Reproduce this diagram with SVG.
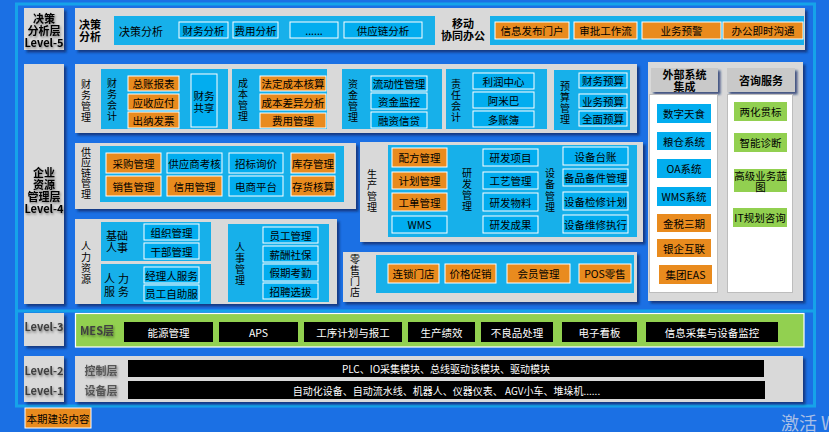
<svg xmlns="http://www.w3.org/2000/svg" width="829" height="432" viewBox="0 0 829 432">
<defs>
<filter id="sh" x="-10%" y="-10%" width="130%" height="140%"><feDropShadow dx="2.5" dy="2.5" stdDeviation="1.2" flood-color="#0b2a66" flood-opacity="0.75"/></filter>
<filter id="ts" x="-20%" y="-30%" width="140%" height="170%"><feDropShadow dx="1" dy="1.5" stdDeviation="1" flood-color="#000" flood-opacity="0.45"/></filter>
</defs>
<style>
text{font-family:"Noto Sans CJK SC","Microsoft YaHei","Liberation Sans",sans-serif;}
.gp{fill:#d9d9d9;filter:url(#sh)}
.hd{fill:#c9c9c9;filter:url(#sh)}
.bp{fill:#17b0ea}
.bb{fill:#02adef;stroke:#fff;stroke-width:1}
.ob{fill:#e98b1e;stroke:#fff;stroke-width:1}
.on{fill:#e98b1e}
.bn{fill:#02adef}
.gb{fill:#92d050}
.kb{fill:#000}
.wc{fill:#fff;stroke:#bdbdbd;stroke-width:1}
.t{font-size:10.5px;text-anchor:middle;dominant-baseline:central;fill:#000}
.w{fill:#fff}
.v{font-size:11px;text-anchor:middle;dominant-baseline:central;fill:#000}
.vt{font-size:10px;writing-mode:vertical-rl;text-anchor:middle;letter-spacing:1px;fill:#000}
.lv{font-size:11px;font-weight:bold;text-anchor:middle;dominant-baseline:central;fill:#000;filter:url(#ts)}
.dg{fill:#404040}
.g5{fill:#555}
</style>
<rect x="0" y="0" width="829" height="432" fill="#1b70e4"/>
<g id="frame">
<rect x="16.5" y="4" width="798" height="402" fill="none" stroke="#16a3e9" stroke-width="3"/>
<line x1="16.5" y1="311" x2="814.5" y2="311" stroke="#16a3e9" stroke-width="3"/>
</g>

<g id="level5">
<rect class="gp" x="24" y="8" width="40" height="42"/>
<text class="lv" x="44" y="18">决策</text>
<text class="lv" x="44" y="30">分析层</text>
<text class="lv" x="44" y="42">Level-5</text>
</g>
<g id="decision-row">
<rect class="gp" x="75" y="8" width="730" height="42"/>
<text class="lv" x="90" y="24" style="filter:none">决策</text>
<text class="lv" x="90" y="36" style="filter:none">分析</text>
<rect class="bp" x="114" y="16" width="321" height="29"/>
<text class="t" x="141" y="31" style="font-size:11px">决策分析</text>
<rect class="bb" x="179" y="22" width="49" height="16"/><text class="t" x="203.5" y="30">财务分析</text>
<rect class="bb" x="233" y="22" width="45" height="16"/><text class="t" x="255.5" y="30">费用分析</text>
<rect class="bb" x="290" y="22" width="48" height="16"/><text class="t" x="314" y="30">......</text>
<rect class="bb" x="344" y="22" width="78" height="16"/><text class="t" x="383" y="30">供应链分析</text>
<text class="lv" x="463" y="23" style="filter:none">移动</text>
<text class="lv" x="463" y="35" style="filter:none">协同办公</text>
<rect class="bp" x="490" y="16" width="314" height="29"/>
<rect class="ob" x="495" y="22" width="74" height="17"/><text class="t" x="532" y="30.5">信息发布门户</text>
<rect class="ob" x="574" y="22" width="63" height="17"/><text class="t" x="605.5" y="30.5">审批工作流</text>
<rect class="ob" x="642" y="22" width="79" height="17"/><text class="t" x="681.5" y="30.5">业务预警</text>
<rect class="ob" x="723" y="22" width="80" height="17"/><text class="t" x="763" y="30.5">办公即时沟通</text>
</g>

<g id="level4">
<rect class="gp" x="24" y="64" width="40" height="240"/>
<text class="lv" x="44" y="172">企业</text>
<text class="lv" x="44" y="184">资源</text>
<text class="lv" x="44" y="196">管理层</text>
<text class="lv" x="44" y="208">Level-4</text>
</g>

<g id="finance">
<rect class="gp" x="75" y="64" width="562" height="69"/>
<text class="vt" x="86" y="101.5">财务管理</text>
<rect class="bp" x="101" y="69" width="127" height="60"/>
<text class="vt" x="112" y="100.5">财务会计</text>
<rect class="ob" x="128" y="76" width="51" height="15"/><text class="t" x="153.5" y="83.5">总账报表</text>
<rect class="ob" x="128" y="94" width="51" height="16"/><text class="t" x="153.5" y="102">应收应付</text>
<rect class="ob" x="128" y="112" width="51" height="16"/><text class="t" x="153.5" y="120">出纳发票</text>
<rect class="bb" x="191" y="74" width="26" height="53"/><text class="t" x="204" y="95">财务</text><text class="t" x="204" y="107">共享</text>
<rect class="bp" x="232" y="69" width="95" height="60"/>
<text class="vt" x="243" y="100.5">成本管理</text>
<rect class="ob" x="260" y="76" width="66" height="15"/><text class="t" x="293" y="83.5">法定成本核算</text>
<rect class="ob" x="260" y="94" width="66" height="16"/><text class="t" x="293" y="102">成本差异分析</text>
<rect class="ob" x="260" y="113" width="66" height="15"/><text class="t" x="293" y="120.5">费用管理</text>
<rect class="bp" x="342" y="69" width="100" height="60"/>
<text class="vt" x="353" y="101.5">资金管理</text>
<rect class="bb" x="371" y="76" width="56" height="15"/><text class="t" x="399" y="83.5">流动性管理</text>
<rect class="bb" x="371" y="93" width="56" height="16"/><text class="t" x="399" y="101">资金监控</text>
<rect class="bb" x="371" y="112" width="56" height="16"/><text class="t" x="399" y="120">融资信贷</text>
<rect class="bp" x="446" y="69" width="101" height="60"/>
<text class="vt" x="456" y="101.5">责任会计</text>
<rect class="bb" x="473" y="73" width="61" height="16"/><text class="t" x="503.5" y="81">利润中心</text>
<rect class="bb" x="473" y="92" width="61" height="16"/><text class="t" x="503.5" y="100">阿米巴</text>
<rect class="bb" x="473" y="111" width="61" height="16"/><text class="t" x="503.5" y="119">多账簿</text>
<rect class="bp" x="554" y="70" width="76" height="60"/>
<text class="vt" x="565" y="103.5">预算管理</text>
<rect class="bb" x="579" y="73" width="48" height="15"/><text class="t" x="603" y="80.5">财务预算</text>
<rect class="bb" x="579" y="94" width="48" height="14"/><text class="t" x="603" y="101">业务预算</text>
<rect class="bb" x="579" y="111" width="48" height="15"/><text class="t" x="603" y="118.5">全面预算</text>
</g>

<g id="supply-chain">
<rect class="gp" x="75" y="143" width="281" height="66"/>
<text class="vt" x="86" y="173" style="letter-spacing:0.5px">供应链管理</text>
<rect class="bp" x="100" y="146" width="244" height="56"/>
<rect class="ob" x="106" y="153" width="55" height="20"/><text class="t" x="133.5" y="163">采购管理</text>
<rect class="bb" x="167" y="153" width="55" height="20"/><text class="t" x="194.5" y="163">供应商考核</text>
<rect class="bb" x="229" y="153" width="54" height="20"/><text class="t" x="256" y="163">招标询价</text>
<rect class="ob" x="291" y="153" width="44" height="20"/><text class="t" x="313" y="163">库存管理</text>
<rect class="ob" x="106" y="176" width="55" height="20"/><text class="t" x="133.5" y="186">销售管理</text>
<rect class="ob" x="167" y="176" width="55" height="20"/><text class="t" x="194.5" y="186">信用管理</text>
<rect class="bb" x="229" y="176" width="54" height="20"/><text class="t" x="256" y="186">电商平台</text>
<rect class="ob" x="291" y="176" width="44" height="20"/><text class="t" x="313" y="186">存货核算</text>
</g>

<g id="production">
<rect class="gp" x="360" y="142" width="283" height="100"/>
<text class="vt" x="372" y="191.5">生产管理</text>
<rect class="bp" x="388" y="145" width="249" height="92"/>
<rect class="ob" x="392" y="148" width="55" height="19"/><text class="t" x="419.5" y="157.5">配方管理</text>
<rect class="ob" x="392" y="172" width="55" height="17"/><text class="t" x="419.5" y="180.5">计划管理</text>
<rect class="ob" x="392" y="193" width="55" height="18"/><text class="t" x="419.5" y="202">工单管理</text>
<rect class="bb" x="392" y="216" width="55" height="17"/><text class="t" x="419.5" y="224.5">WMS</text>
<text class="vt" x="467" y="190.5">研发管理</text>
<rect class="bb" x="483" y="149" width="55" height="17"/><text class="t" x="510.5" y="157.5">研发项目</text>
<rect class="bb" x="483" y="172" width="55" height="17"/><text class="t" x="510.5" y="180.5">工艺管理</text>
<rect class="bb" x="483" y="193" width="55" height="18"/><text class="t" x="510.5" y="202">研发物料</text>
<rect class="bb" x="483" y="216" width="55" height="17"/><text class="t" x="510.5" y="224.5">研发成果</text>
<text class="vt" x="550" y="191" style="letter-spacing:1.5px">设备管理</text>
<rect class="bb" x="563" y="147" width="65" height="18"/><text class="t" x="595.5" y="156">设备台账</text>
<rect class="bb" x="563" y="169" width="65" height="17"/><text class="t" x="595.5" y="177.5">备品备件管理</text>
<rect class="bb" x="563" y="192" width="65" height="18"/><text class="t" x="595.5" y="201">设备检修计划</text>
<rect class="bb" x="563" y="215" width="65" height="18"/><text class="t" x="595.5" y="224">设备维修执行</text>
</g>

<g id="hr">
<rect class="gp" x="75" y="219" width="262" height="85"/>
<text class="vt" x="86" y="263.5">人力资源</text>
<rect class="bp" x="101" y="222" width="110" height="39"/>
<text class="v" x="117" y="235">基础</text><text class="v" x="117" y="247">人事</text>
<rect class="bb" x="144" y="224" width="55" height="16"/><text class="t" x="171.5" y="232">组织管理</text>
<rect class="bb" x="144" y="243" width="55" height="16"/><text class="t" x="171.5" y="251">干部管理</text>
<rect class="bp" x="101" y="264" width="110" height="40"/>
<text class="v" x="118" y="278" letter-spacing="3">人力</text><text class="v" x="118" y="291" letter-spacing="3">服务</text>
<rect class="bb" x="144" y="267" width="55" height="16"/><text class="t" x="171.5" y="275">经理人服务</text>
<rect class="bb" x="144" y="285" width="55" height="16"/><text class="t" x="171.5" y="293">员工自助服</text>
<rect class="bp" x="228" y="224" width="101" height="78"/>
<text class="vt" x="240" y="264.5">人事管理</text>
<rect class="bb" x="263" y="227" width="55" height="16"/><text class="t" x="290.5" y="235">员工管理</text>
<rect class="bb" x="263" y="246" width="55" height="16"/><text class="t" x="290.5" y="254">薪酬社保</text>
<rect class="bb" x="263" y="264" width="55" height="17"/><text class="t" x="290.5" y="272.5">假期考勤</text>
<rect class="bb" x="263" y="283" width="55" height="16"/><text class="t" x="290.5" y="291">招聘选拔</text>
</g>

<g id="retail">
<rect class="gp" x="343" y="252" width="294" height="50"/>
<text class="vt" x="355" y="276.5">零售门店</text>
<rect class="bp" x="376" y="255" width="258" height="38"/>
<rect class="ob" x="388" y="264" width="51" height="19"/><text class="t" x="413.5" y="273.5">连锁门店</text>
<rect class="ob" x="445" y="264" width="51" height="19"/><text class="t" x="470.5" y="273.5">价格促销</text>
<rect class="ob" x="507" y="264" width="63" height="19"/><text class="t" x="538.5" y="273.5">会员管理</text>
<rect class="ob" x="579" y="264" width="52" height="19"/><text class="t" x="605" y="273.5">POS零售</text>
</g>

<g id="external">
<rect class="gp" x="648" y="62" width="155" height="239"/>
<rect class="hd" x="651" y="68" width="67" height="24"/>
<text class="v" x="684.5" y="74" style="font-weight:bold">外部系统</text>
<text class="v" x="684.5" y="86" style="font-weight:bold">集成</text>
<rect class="hd" x="727" y="68" width="68" height="24"/>
<text class="v" x="761" y="80" style="font-weight:bold">咨询服务</text>
<rect class="wc" x="649.5" y="94.5" width="68" height="198"/>
<rect class="wc" x="727.5" y="94.5" width="65" height="198"/>
<rect class="bn" x="657" y="104" width="54" height="19"/><text class="t" x="684" y="113.5">数字天食</text>
<rect class="bn" x="657" y="132" width="54" height="18"/><text class="t" x="684" y="141">粮仓系统</text>
<rect class="bn" x="657" y="159" width="54" height="19"/><text class="t" x="684" y="168.5">OA系统</text>
<rect class="bn" x="657" y="187" width="54" height="19"/><text class="t" x="684" y="196.5">WMS系统</text>
<rect class="on" x="657" y="214" width="54" height="18"/><text class="t" x="684" y="223">金税三期</text>
<rect class="on" x="657" y="239" width="54" height="18"/><text class="t" x="684" y="248">银企互联</text>
<rect class="on" x="659" y="265" width="53" height="19"/><text class="t" x="685.5" y="274.5">集团EAS</text>
</g>

<g id="consulting">
<rect class="gb" x="734" y="102" width="53" height="19"/><text class="t" x="760.5" y="111.5">两化贯标</text>
<rect class="gb" x="734" y="133" width="53" height="19"/><text class="t" x="760.5" y="142.5">智能诊断</text>
<rect class="gb" x="734" y="169" width="53" height="23"/><text class="t" x="760.5" y="175">高级业务蓝</text><text class="t" x="760.5" y="186">图</text>
<rect class="gb" x="733" y="208" width="54" height="19"/><text class="t" x="760" y="217.5">IT规划咨询</text>
</g>

<g id="level3">
<rect class="gp" x="24" y="313" width="40" height="33"/>
<text class="lv dg" x="44" y="326">Level-3</text>
</g>
<g id="mes">
<rect x="75.5" y="313.5" width="728.5" height="33.5" fill="#92d050" stroke="#fff" stroke-width="1.2"/>
<text class="lv dg" x="97" y="330">MES层</text>
<rect class="kb" x="124" y="322" width="89" height="20"/><text class="t w" x="168.5" y="332">能源管理</text>
<rect class="kb" x="219" y="322" width="79" height="20"/><text class="t w" x="258.5" y="332">APS</text>
<rect class="kb" x="304" y="322" width="98" height="20"/><text class="t w" x="353" y="332">工序计划与报工</text>
<rect class="kb" x="408" y="322" width="67" height="20"/><text class="t w" x="441.5" y="332">生产绩效</text>
<rect class="kb" x="481" y="322" width="72" height="20"/><text class="t w" x="517" y="332">不良品处理</text>
<rect class="kb" x="562" y="322" width="75" height="20"/><text class="t w" x="599.5" y="332">电子看板</text>
<rect class="kb" x="646" y="322" width="132" height="20"/><text class="t w" x="712" y="332">信息采集与设备监控</text>
</g>

<g id="level21">
<rect class="gp" x="24" y="356" width="40" height="46"/>
<text class="lv dg" x="44" y="370">Level-2</text>
<text class="lv dg" x="44" y="390">Level-1</text>
</g>
<g id="control-device">
<rect class="gp" x="75" y="356" width="728" height="46"/>
<text class="lv g5" x="101" y="370">控制层</text>
<text class="lv g5" x="101" y="390">设备层</text>
<rect class="kb" x="128" y="360" width="636" height="17"/><text class="t w" x="446" y="368.5" style="font-size:10px">PLC、IO采集模块、总线驱动该模块、驱动模块</text>
<rect class="kb" x="128" y="381" width="637" height="18"/><text class="t w" x="446.5" y="390" style="font-size:10px">自动化设备、自动流水线、机器人、仪器仪表、 AGV小车、堆垛机......</text>
</g>

<g id="legend">
<rect class="ob" x="25" y="408" width="66" height="20"/><text class="t" x="58" y="418">本期建设内容</text>
</g>
<text x="781" y="430" font-size="18" fill="#a9bfe6">激活 Windows</text>
</svg>
